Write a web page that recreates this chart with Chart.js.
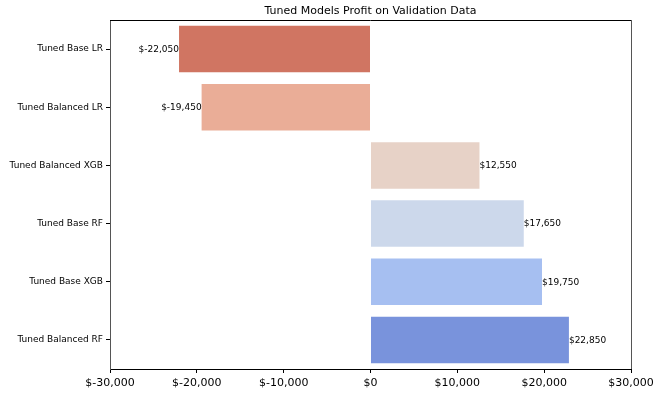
<!DOCTYPE html>
<html>
<head>
<meta charset="utf-8">
<script src="https://cdn.jsdelivr.net/npm/chart.js@4"></script>
<style>
  html, body { margin: 0; padding: 0; background: #fff; }
  #wrap { width: 660px; height: 394px; }
</style>
</head>
<body>
<div id="wrap"><canvas id="plot" width="660" height="394"></canvas></div>
<script>
// data
const models = ['Tuned Base LR', 'Tuned Balanced LR', 'Tuned Balanced XGB', 'Tuned Base RF', 'Tuned Base XGB', 'Tuned Balanced RF']
const profit = [-22050, -19450, 12550, 17650, 19750, 22850]
const barColors = ['#d07562', '#eaad97', '#e7d2c7', '#ccd8eb', '#a6bff1', '#7993dc']
const xTicks = [-30000, -20000, -10000, 0, 10000, 20000, 30000]
const chartTitle = 'Tuned Models Profit on Validation Data'

const FONT = 'DejaVu Sans'

function money(v) {
  return '$' + v.toLocaleString('en-US')
}

// title, top/right spines and value labels
const extras = {
  id: 'extras',
  afterDraw(chart) {
    const ctx = chart.ctx
    const a = chart.chartArea
    ctx.save()
    ctx.strokeStyle = '#000'
    ctx.lineWidth = 1
    ctx.beginPath()
    ctx.moveTo(a.left, a.top + 0.5)
    ctx.lineTo(a.right, a.top + 0.5)
    ctx.stroke()
    ctx.strokeStyle = '#555'
    ctx.beginPath()
    ctx.moveTo(a.right + 0.5, a.top)
    ctx.lineTo(a.right + 0.5, a.bottom)
    ctx.stroke()

    ctx.fillStyle = '#000'
    ctx.font = '11px "' + FONT + '"'
    ctx.textAlign = 'center'
    ctx.textBaseline = 'middle'
    ctx.fillText(chartTitle, (a.left + a.right) / 2, 11)

    ctx.font = '9px "' + FONT + '"'
    const meta = chart.getDatasetMeta(0)
    meta.data.forEach((bar, i) => {
      const v = profit[i]
      ctx.textAlign = v < 0 ? 'right' : 'left'
      ctx.fillText(money(v), bar.x, bar.y + 0.5)
    })
    ctx.restore()
  }
}

const chart = new Chart(
  document.getElementById('plot'),
  {
    type: 'bar',
    data: {
      labels: models,
      datasets: [{
        data: profit,
        backgroundColor: barColors,
        borderWidth: 0,
        categoryPercentage: 0.8,
        barPercentage: 1.0,
      }]
    },
    plugins: [extras],
    options: {
      indexAxis: 'y',
      responsive: false,
      animation: false,
      events: [],
      layout: { padding: { top: 20, right: 29, left: 0, bottom: 0 } },
      plugins: {
        legend: { display: false },
        title: { display: false },
        tooltip: { enabled: false }
      },
      scales: {
        x: {
          type: 'linear',
          min: -30000,
          max: 30000,
          afterBuildTicks: (axis) => { axis.ticks = xTicks.map(v => ({ value: v })) },
          afterFit: (axis) => { axis.height = 25 },
          grid: { drawOnChartArea: false, drawTicks: true, tickLength: 4, color: '#000', tickWidth: 1 },
          border: { display: true, color: '#000', width: 1 },
          ticks: {
            color: '#000',
            padding: 4,
            maxRotation: 0,
            font: { family: FONT, size: 11 },
            callback: (v) => money(v)
          }
        },
        y: {
          afterFit: (axis) => { axis.width = 110 },
          grid: { drawOnChartArea: false, drawTicks: true, tickLength: 4, color: '#000', tickWidth: 1, offset: false },
          border: { display: true, color: '#555', width: 1 },
          ticks: {
            color: '#000',
            padding: 3,
            font: { family: FONT, size: 9 }
          }
        }
      }
    }
  }
)
</script>
</body>
</html>
